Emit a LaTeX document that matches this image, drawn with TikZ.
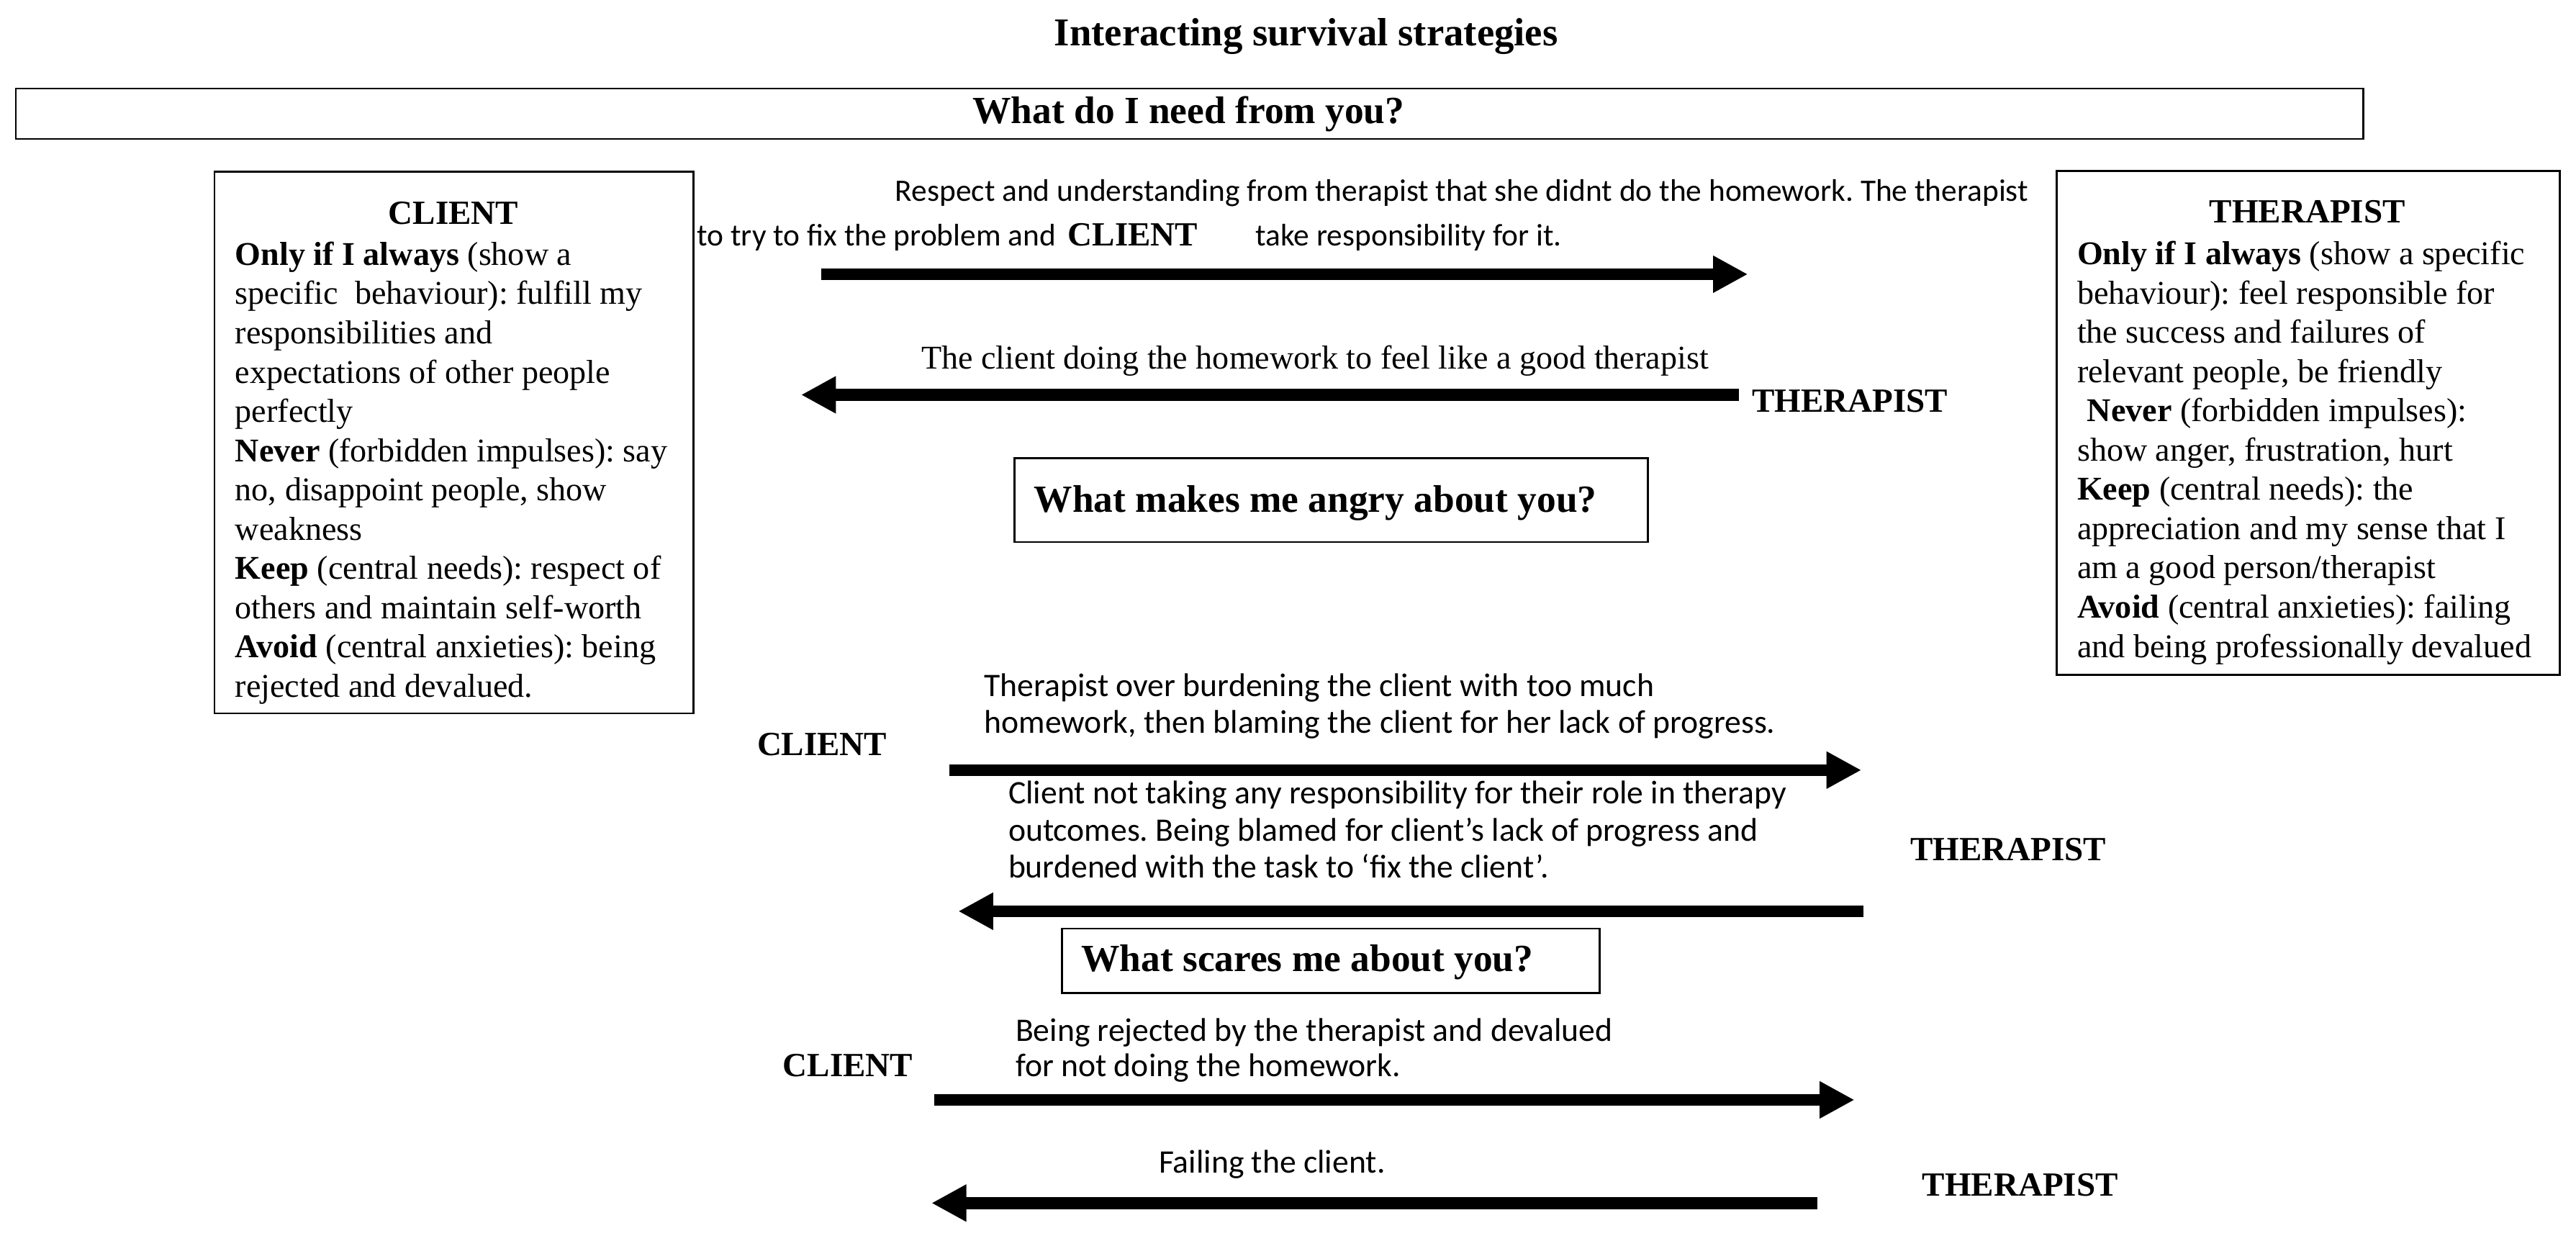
\documentclass[tikz,border=0pt]{standalone}
\usepackage{fontspec}
\setmainfont{Liberation Serif}
\newfontfamily\calfont{Carlito}
\usetikzlibrary{arrows.meta}
\frenchspacing
\begin{document}
\begin{tikzpicture}[x=0.5pt,y=-0.5pt,
  boxframe/.style={draw, line width=0.6pt, inner sep=0pt, anchor=north west},
  bigarrow/.style={line width=3.65pt, -{Triangle[length=10.6pt,width=10.6pt]}},
  txt/.style={inner sep=0pt, anchor=base west, align=left},
  boxbody/.style={txt, font=\fontsize{10.1}{11.95}\selectfont},
  who/.style={inner sep=0pt, anchor=base west, font=\bfseries\fontsize{10.3}{12}\selectfont},
  heading/.style={inner sep=0pt, font=\bfseries\fontsize{11.7}{14}\selectfont},
  calsmall/.style={txt, font=\calfont\fontsize{9.5}{11}\selectfont},
  callabel/.style={txt, font=\calfont\fontsize{10}{11.1}\selectfont},
]
\useasboundingbox (0,0) rectangle (1568,755.3);

% title
\node[heading, anchor=base, font=\bfseries\fontsize{12}{14}\selectfont] (title) at (795,27.6) {Interacting survival strategies};

% frames
\node[boxframe, minimum width=714.5pt, minimum height=15.35pt] (needbox) at (9,53.3) {};
\node[heading, anchor=base] (needtxt) at (723.5,75.2) {What do I need from you?};

% client box (multi-line nodes: base = last line)
\node[boxframe, minimum width=145.75pt, minimum height=164.8pt] (clientbox) at (130,104) {};
\node[who, anchor=base] (clienttitle) at (276,136.3) {CLIENT};
\node[boxbody] (clientbody) at (142.8,424.3) {%
\textbf{Only if I always} (show a\\
specific\ \ behaviour): fulfill my\\
responsibilities and\\
expectations of other people\\
perfectly\\
\textbf{Never} (forbidden impulses): say\\
no, disappoint people, show\\
weakness\\
\textbf{Keep} (central needs): respect of\\
others and maintain self-worth\\
\textbf{Avoid} (central anxieties): being\\
rejected and devalued.};

\node[boxframe, minimum width=153.2pt, minimum height=153.2pt] (therbox) at (1251.2,103.6) {};
\node[who, anchor=base] (thertitle) at (1404.5,135.6) {THERAPIST};
\node[boxbody] (therbody) at (1264,400) {%
\textbf{Only if I always} (show a specific\\
behaviour): feel responsible for\\
the success and failures of\\
relevant people, be friendly\\
\hspace{0.3em}\textbf{Never} (forbidden impulses):\\
show anger, frustration, hurt\\
\textbf{Keep} (central needs): the\\
appreciation and my sense that I\\
am a good person/therapist\\
\textbf{Avoid} (central anxieties): failing\\
and being professionally devalued};

% section 1
\node[calsmall] (resp1) at (544.6,122.6) {Respect and understanding from therapist that she didnt do the homework. The therapist};
\node[calsmall] (resp2a) at (424,149.7) {to try to fix the problem and};
\node[who] (client1) at (649.7,149.7) {CLIENT};
\node[calsmall] (resp2b) at (764,149.7) {take responsibility for it.};
\coordinate (a1s) at (500,166.9);
\coordinate (a1e) at (1063.9,166.9);
\draw[bigarrow] (a1s) -- (a1e);

\node[boxbody] (good) at (560.5,224.7) {The client doing the homework to feel like a good therapist};
\coordinate (a2s) at (1058.6,240.3);
\coordinate (a2e) at (487.6,240.3);
\draw[bigarrow] (a2s) -- (a2e);
\node[who] (ther1) at (1066,251) {THERAPIST};

% section 2
\node[boxframe, minimum width=192.8pt, minimum height=25.45pt] (angrybox) at (617,278.4) {};
\node[heading, anchor=base west] (angrytxt) at (629,311.7) {What makes me angry about you?};

\node[callabel] (burden) at (598.8,446) {Therapist over burdening the client with too much\\homework, then blaming the client for her lack of progress.};
\node[who] (client2) at (460.5,459.9) {CLIENT};
\coordinate (a3s) at (577.9,468.7);
\coordinate (a3e) at (1133,468.7);
\draw[bigarrow] (a3s) -- (a3e);

\node[callabel, font=\calfont\fontsize{10}{11.25}\selectfont] (nottaking) at (613.4,534.3) {Client not taking any responsibility for their role in therapy\\outcomes. Being blamed for client’s lack of progress and\\burdened with the task to ‘fix the client’.};
\node[who] (ther2) at (1162.6,523.6) {THERAPIST};
\coordinate (a4s) at (1134.2,554.6);
\coordinate (a4e) at (583.3,554.6);
\draw[bigarrow] (a4s) -- (a4e);

% section 3
\node[boxframe, minimum width=163.6pt, minimum height=19.55pt] (scarebox) at (645.8,564.6) {};
\node[heading, anchor=base west] (scaretxt) at (657.8,591.3) {What scares me about you?};

\node[callabel, font=\calfont\fontsize{10}{10.85}\selectfont] (rejected) at (617.8,655.3) {Being rejected by the therapist and devalued\\for not doing the homework.};
\node[who] (client3) at (476.2,655.3) {CLIENT};
\coordinate (a5s) at (568.8,669.4);
\coordinate (a5e) at (1128.8,669.4);
\draw[bigarrow] (a5s) -- (a5e);

\node[callabel] (failing) at (705,713.8) {Failing the client.};
\node[who] (ther3) at (1169.7,727.9) {THERAPIST};
\coordinate (a6s) at (1106.2,732.2);
\coordinate (a6e) at (567,732.2);
\draw[bigarrow] (a6s) -- (a6e);
\end{tikzpicture}
\end{document}
